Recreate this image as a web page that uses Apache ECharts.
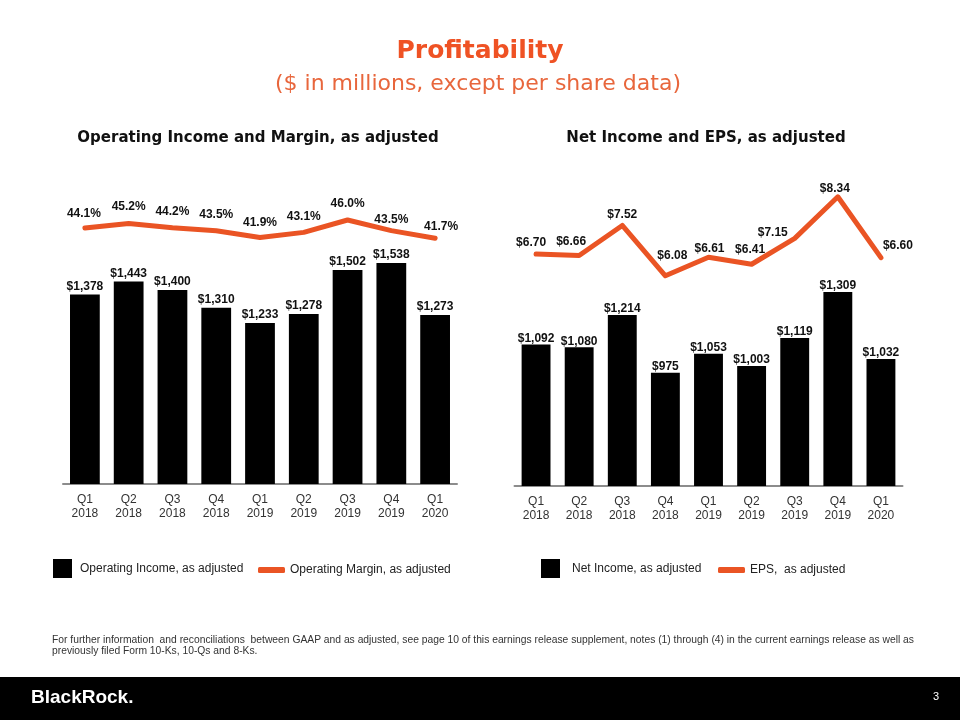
<!DOCTYPE html>
<html>
<head>
<meta charset="utf-8">
<script src="https://cdn.jsdelivr.net/npm/echarts@6/dist/echarts.min.js"></script>
<style>
html,body{margin:0;padding:0;background:#fff;}
#chart{width:960px;height:720px;}
</style>
</head>
<body>
<div id="chart"></div>
<script>
// ---- data ----
const categories = ['Q1 2018','Q2 2018','Q3 2018','Q4 2018','Q1 2019','Q2 2019','Q3 2019','Q4 2019','Q1 2020'];
const operatingIncome = [1378, 1443, 1400, 1310, 1233, 1278, 1502, 1538, 1273];
const operatingMargin = [44.1, 45.2, 44.2, 43.5, 41.9, 43.1, 46.0, 43.5, 41.7];
const netIncome = [1092, 1080, 1214, 975, 1053, 1003, 1119, 1309, 1032];
const eps = [6.70, 6.66, 7.52, 6.08, 6.61, 6.41, 7.15, 8.34, 6.60];

// ---- label nudges (styling only) ----
const marginLabelShift = [[-1,0],[0,-2],[0,-1],[0,-1.6],[0,-0.7],[0,-1],[0,-2],[0,4],[6,2.5]];
const epsLabelShift = [[-5,-4.7],[-8,-7.4],[0,-4.4],[7,-13.7],[1,-1.7],[-1.5,-8],[-22,0.4],[-3,-1.7],[17,-5]];

const ORANGE = '#EA5424';
const FONT = 'Liberation Sans, Arial, sans-serif';

const chart = echarts.init(document.getElementById('chart'), null, {renderer:'canvas'});

function catAxis(gridIndex){
  return {
    type:'category', gridIndex, data:categories,
    axisLine:{show:true, onZero:false, lineStyle:{color:'#8c8c8c', width:2}},
    axisTick:{show:false},
    axisLabel:{
      margin:9, color:'#333', fontFamily:FONT, fontSize:12, lineHeight:13.5,
      formatter:v=>v.replace(' ','\n')
    }
  };
}
function hiddenVal(gridIndex,min,max){
  return {type:'value', gridIndex, min, max, show:false, splitLine:{show:false}};
}

const lineLabelData = (vals, shifts) => vals.map((v,i)=>({
  value:v,
  label:{offset:shifts[i]}
}));

const option = {
  animation:false,
  backgroundColor:'#fff',
  grid:[
    {left:63, width:394, top:200, height:284},
    {left:514.5, width:388, top:180, height:306}
  ],
  xAxis:[catAxis(0), catAxis(1)],
  yAxis:[
    hiddenVal(0, 414, 1858),
    hiddenVal(0, -16, 50.7),
    hiddenVal(1, 506, 1772.6),
    hiddenVal(1, 0.065, 8.82)
  ],
  legend:[
    {data:[{name:'Operating Income, as adjusted', icon:'rect'}], left:53, top:559, itemWidth:19, itemHeight:19,
     padding:0, selectedMode:false, textStyle:{fontFamily:FONT, fontSize:12, color:'#222', padding:[3,0,0,3]}},
    {data:[{name:'Operating Margin, as adjusted', icon:'roundRect'}], left:258, top:564, itemWidth:27, itemHeight:6,
     padding:0, selectedMode:false, textStyle:{fontFamily:FONT, fontSize:12, color:'#222'}},
    {data:[{name:'Net Income, as adjusted', icon:'rect'}], left:541, top:559, itemWidth:19, itemHeight:19,
     padding:0, selectedMode:false, textStyle:{fontFamily:FONT, fontSize:12, color:'#222', padding:[0,0,0,7]}},
    {data:[{name:'EPS,  as adjusted', icon:'roundRect'}], left:718, top:564, itemWidth:27, itemHeight:6,
     padding:0, selectedMode:false, textStyle:{fontFamily:FONT, fontSize:12, color:'#222'}}
  ],
  series:[
    {
      name:'Operating Income, as adjusted', type:'bar', xAxisIndex:0, yAxisIndex:0,
      data:operatingIncome, barCategoryGap:'32%', itemStyle:{color:'#000'},
      label:{show:true, position:'top', distance:2, color:'#111', fontFamily:FONT, fontWeight:'bold', fontSize:12,
        formatter:p=>'$'+p.value.toLocaleString('en-US')},
      emphasis:{disabled:true}
    },
    {
      name:'Operating Margin, as adjusted', type:'line', xAxisIndex:0, yAxisIndex:1,
      data:lineLabelData(operatingMargin, marginLabelShift),
      symbol:'circle', symbolSize:1, showSymbol:true,
      itemStyle:{color:ORANGE},
      lineStyle:{color:ORANGE, width:5, cap:'round', join:'round'},
      label:{show:true, position:'top', distance:8, color:'#111', fontFamily:FONT, fontWeight:'bold', fontSize:12,
        formatter:p=>p.value.toFixed(1)+'%'},
      emphasis:{disabled:true}
    },
    {
      name:'Net Income, as adjusted', type:'bar', xAxisIndex:1, yAxisIndex:2,
      data:netIncome, barCategoryGap:'33%', itemStyle:{color:'#000'},
      label:{show:true, position:'top', distance:0, color:'#111', fontFamily:FONT, fontWeight:'bold', fontSize:12,
        formatter:p=>'$'+p.value.toLocaleString('en-US')},
      emphasis:{disabled:true}
    },
    {
      name:'EPS,  as adjusted', type:'line', xAxisIndex:1, yAxisIndex:3,
      data:lineLabelData(eps, epsLabelShift),
      symbol:'circle', symbolSize:1, showSymbol:true,
      itemStyle:{color:ORANGE},
      lineStyle:{color:ORANGE, width:5, cap:'round', join:'round'},
      label:{show:true, position:'top', distance:0, color:'#111', fontFamily:FONT, fontWeight:'bold', fontSize:12,
        formatter:p=>'$'+p.value.toFixed(2)},
      emphasis:{disabled:true}
    }
  ],
  graphic:[
    {type:'text', x:480, y:51, style:{text:'Profitability', align:'center', verticalAlign:'middle',
      font:'bold 25px "DejaVu Sans", sans-serif', fill:'#EF5224'}},
    {type:'text', x:478, y:84, style:{text:'($ in millions, except per share data)', align:'center', verticalAlign:'middle',
      font:'22px "DejaVu Sans", sans-serif', fill:'#E8663C'}},
    {type:'text', x:258, y:138, style:{text:'Operating Income and Margin, as adjusted', align:'center', verticalAlign:'middle',
      font:'bold 15px "DejaVu Sans", sans-serif', fill:'#111'}},
    {type:'text', x:706, y:138, style:{text:'Net Income and EPS, as adjusted', align:'center', verticalAlign:'middle',
      font:'bold 15px "DejaVu Sans", sans-serif', fill:'#111'}},
    {type:'text', x:52, y:640, style:{text:'For further information  and reconciliations  between GAAP and as adjusted, see page 10 of this earnings release supplement, notes (1) through (4) in the current earnings release as well as', align:'left', verticalAlign:'middle',
      font:'10.3px "Liberation Sans", Arial, sans-serif', fill:'#333'}},
    {type:'text', x:52, y:651, style:{text:'previously filed Form 10-Ks, 10-Qs and 8-Ks.', align:'left', verticalAlign:'middle',
      font:'10.3px "Liberation Sans", Arial, sans-serif', fill:'#333'}},
    {type:'rect', shape:{x:0, y:677, width:960, height:43}, style:{fill:'#000'}},
    {type:'text', x:31, y:698, style:{text:'BlackRock.', align:'left', verticalAlign:'middle',
      font:'bold 19px "Liberation Sans", Arial, sans-serif', fill:'#fff'}},
    {type:'text', x:936, y:697, style:{text:'3', align:'center', verticalAlign:'middle',
      font:'11px "Liberation Sans", Arial, sans-serif', fill:'#fff'}}
  ]
};
chart.setOption(option);
</script>
</body>
</html>
